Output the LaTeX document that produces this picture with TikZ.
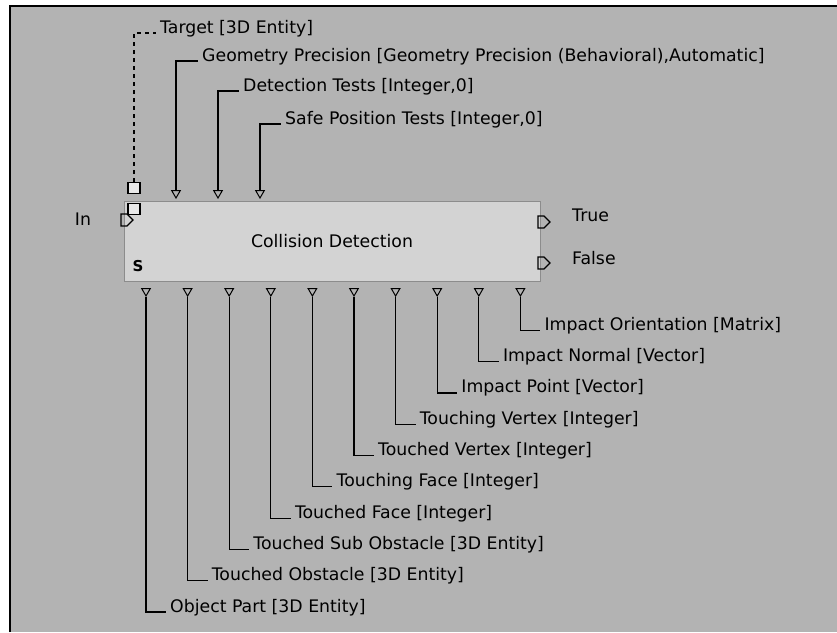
\documentclass[tikz,border=0pt]{standalone}
\usepackage{fontspec}
\setmainfont{DejaVu Sans}
\usetikzlibrary{positioning,shapes.geometric,shapes.symbols}

\definecolor{panelgrey}{HTML}{B3B3B3}
\definecolor{boxgrey}{HTML}{D3D3D3}
\definecolor{edgegrey}{HTML}{8C8C8C}

\tikzset{
  lbl/.style={anchor=base west, inner sep=4pt, font=\fontsize{17.3}{20}\selectfont},
  plain/.style={inner sep=0pt, font=\fontsize{17.3}{20}\selectfont},
  inpin/.style={draw, regular polygon, regular polygon sides=3, shape border rotate=180,
    minimum size=10pt, inner sep=0pt, line width=1pt},
  sqpin/.style={draw, rectangle, minimum width=12pt, minimum height=11pt, inner sep=0pt,
    fill=boxgrey!50!white, line width=1.2pt},
  outpin/.style={draw, signal, signal to=east, minimum width=12pt, minimum height=12pt,
    inner sep=0pt, line width=1.2pt},
  wire/.style={line width=1.2pt},
  bbox/.style={draw=edgegrey, fill=boxgrey, line width=1pt, minimum width=416pt,
    minimum height=80pt, inner sep=0pt, font=\fontsize{17.3}{20}\selectfont},
}

\begin{document}
\begin{tikzpicture}[x=1pt, y=-1pt]

  % panel
  \useasboundingbox (0,0) rectangle (837,632);
  \fill[white] (0,0) rectangle (837,632);
  \fill[panelgrey] (9,5) rectangle (837,632);
  \draw[line width=2pt] (10,632) -- (10,5.5) -- (837,5.5);

  % building block
  \node[bbox] (cd) at (332,241) {Collision Detection};
  \node[font=\fontsize{15}{17}\bfseries\selectfont, inner sep=0pt] (s) at (138,266) {S};

  % inputs on top
  \node[sqpin] (tgt) at (134,188) {};
  \node[sqpin] (tgtin) at (134,209) {};
  \foreach \x [count=\i] in {176,218,260}
    \node[inpin] (t\i) at (\x,193) {};

  \node[lbl] (ltgt) at (156,33) {Target [3D Entity]};
  \node[lbl] (lt1) at (198,61) {Geometry Precision [Geometry Precision (Behavioral),Automatic]};
  \node[lbl] (lt2) at (239,91) {Detection Tests [Integer,0]};
  \node[lbl] (lt3) at (281,124) {Safe Position Tests [Integer,0]};

  \draw[wire, dash pattern=on 4pt off 4pt] (tgt.north) |- (ltgt.base west);
  \foreach \i in {1,2,3}
    \draw[wire] (t\i.north) |- (lt\i.base west);

  % in / outs
  \node[outpin] (inp) at (124,220) {};
  \node[plain] (lin) at (83,219) {In};
  \node[outpin] (otrue) at (541,222) {};
  \node[outpin] (ofalse) at (541,263) {};
  \node[plain, anchor=west] (ltrue) at (572,215) {True};
  \node[plain, anchor=west] (lfalse) at (572,258) {False};

  % outputs below
  \foreach \t [count=\i from 0] in {{Object Part [3D Entity]},{Touched Obstacle [3D Entity]},
      {Touched Sub Obstacle [3D Entity]},{Touched Face [Integer]},{Touching Face [Integer]},
      {Touched Vertex [Integer]},{Touching Vertex [Integer]},{Impact Point [Vector]},
      {Impact Normal [Vector]},{Impact Orientation [Matrix]}} {
    \node[inpin] (b\i) at ({146+41.6*\i},291) {};
    \node[lbl] (lb\i) at ({166+41.6*\i},{612-31.3*\i}) {\t};
    \draw[wire] (b\i.south) |- (lb\i.base west);
  }

\end{tikzpicture}
\end{document}
